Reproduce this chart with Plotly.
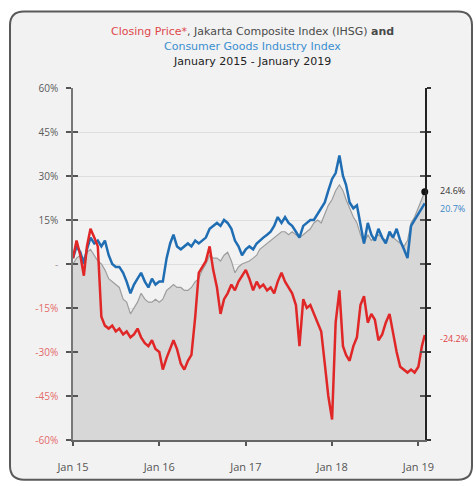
import datetime as dt
import plotly.graph_objects as go

# Half-monthly observation dates, Jan 2015 - Jan 2019, plus the last close
dates = []
for year in range(2015, 2019):
    for month in range(1, 13):
        dates.append(dt.date(year, month, 1))
        dates.append(dt.date(year, month, 16))
dates += [dt.date(2019, 1, 1), dt.date(2019, 1, 16), dt.date(2019, 1, 28)]

# Cumulative change since Jan 2015, in percent
closing_price = [
    2, 8, 3, -4, 6, 12, 9, 6, -18, -21,
    -22, -21, -23, -22, -24, -23, -25, -24, -22, -25,
    -27, -28, -26, -29, -30, -36, -32, -29, -26, -29,
    -34, -36, -33, -31, -18, -3, -1, 1, 6, -2,
    -8, -17, -12, -10, -7, -9, -6, -4, -2, -5,
    -9, -6, -8, -7, -9, -8, -10, -6, -3, -6,
    -8, -10, -14, -28, -12, -15, -14, -17, -20, -23,
    -34, -45, -53, -20, -9, -28, -31, -33, -28, -25,
    -14, -11, -20, -17, -19, -26, -24, -20, -17, -24,
    -30, -35, -36, -37, -36, -37, -35, -28, -24.2,
]
consumer_goods = [
    2, 6, 4, 0, 5, 9, 7, 8, 6, 8,
    3, 0, -1, -1, -3, -6, -10, -7, -5, -3,
    -6, -8, -5, -7, -6, -6, 2, 7, 10, 6,
    5, 6, 7, 6, 8, 7, 8, 9, 12, 13,
    14, 13, 15, 14, 12, 8, 6, 3, 5, 6,
    5, 7, 8, 9, 10, 11, 13, 16, 14, 16,
    14, 13, 11, 9, 13, 14, 15, 15, 17, 19,
    21, 25, 29, 31, 37, 30, 27, 21, 19, 20,
    13, 7, 14, 10, 8, 12, 9, 7, 11, 9,
    12, 8, 5, 2, 13, 15, 17, 19, 20.7,
]
jci = [
    0, 2, 3, 2, 4, 5, 3, 1, 0, -2,
    -5, -6, -7, -8, -12, -13, -17, -15, -13, -10,
    -12, -13, -13, -12, -13, -12, -9, -8, -7, -8,
    -8, -9, -9, -8, -6, -5, -2, 0, 3, 2,
    2, 1, 3, 4, 1, -3, -1, 0, 0.5, 1,
    2, 3, 5, 6, 7, 8, 9, 10, 11, 11,
    10, 11, 10, 9, 10, 11, 12, 14, 15, 14,
    17, 20, 22, 25, 27, 25, 22, 19, 16, 14,
    10, 7, 10, 8, 9, 10, 9, 8, 10, 9,
    8, 7, 6, 8, 14, 16, 19, 22, 24.6,
]

y_ticks = [60, 45, 30, 15, 0, -15, -30, -45, -60]
y_tick_labels = ["60%", "45%", "30%", "15%", "-", "-15%", "-30%", "-45%", "-60%"]
x_ticks = ["2015-01-01", "2016-01-01", "2017-01-01", "2018-01-01", "2019-01-01"]
x_tick_labels = ["Jan 15", "Jan 16", "Jan 17", "Jan 18", "Jan 19"]
end_labels = ["24.6%", "20.7%", "-24.2%"]

Y_MIN, Y_MAX = -60, 60
X_RANGE = ["2015-01-01", "2019-01-29"]

RED = "#e02626"
BLUE = "#1f6db3"
FONT = "Open Sans"
TITLE_FONT = "DejaVu Sans"

W, H = 476, 486
ML, MR, MT, MB = 73, 51, 88, 44
PW, PH = W - ML - MR, H - MT - MB


def px(x):
    return (x - ML) / PW


def py(y):
    return (H - MB - y) / PH


def tick_text(label, value):
    if value > 0:
        color = "#5a5a5a"
    elif value == 0:
        color = "#9a9a9a"
    else:
        color = "#e46a6a"
    return f"<span style='color:{color}'>{label}</span>"


fig = go.Figure()

# invisible baseline at the bottom of the axis so the index area fills down to it
fig.add_trace(go.Scatter(x=dates, y=[Y_MIN] * len(dates), mode="lines",
                         line=dict(width=0), hoverinfo="skip", showlegend=False))
fig.add_trace(go.Scatter(x=dates, y=jci, mode="lines", fill="tonexty",
                         fillcolor="#d7d7d7", line=dict(color="#9d9d9d", width=1.2),
                         name="JCI", showlegend=False))
fig.add_trace(go.Scatter(x=dates, y=consumer_goods, mode="lines",
                         line=dict(color=BLUE, width=2.5),
                         name="Consumer Goods", showlegend=False))
fig.add_trace(go.Scatter(x=dates, y=closing_price, mode="lines",
                         line=dict(color=RED, width=2.5),
                         name="Closing Price", showlegend=False))
fig.add_trace(go.Scatter(x=[dates[-1]], y=[jci[-1]], mode="markers",
                         marker=dict(color="#111111", size=7), cliponaxis=False,
                         showlegend=False, hoverinfo="skip"))
# empty traces that carry the right-hand axis and the inner tick marks
fig.add_trace(go.Scatter(x=[], y=[], yaxis="y2", showlegend=False))
fig.add_trace(go.Scatter(x=[], y=[], xaxis="x2", yaxis="y3", showlegend=False))

# rounded frame around the whole chart
bx0, bx1, by0, by1 = px(10), px(472), py(482), py(11)
rx, ry = 14 / PW, 14 / PH
frame = (f"M {bx0+rx},{by1} L {bx1-rx},{by1} Q {bx1},{by1} {bx1},{by1-ry} "
         f"L {bx1},{by0+ry} Q {bx1},{by0} {bx1-rx},{by0} L {bx0+rx},{by0} "
         f"Q {bx0},{by0} {bx0},{by0+ry} L {bx0},{by1-ry} Q {bx0},{by1} {bx0+rx},{by1} Z")
fig.add_shape(type="path", path=frame, xref="paper", yref="paper",
              fillcolor="#f2f2f2", line=dict(color="#5a5a5a", width=2), layer="below")

# title, three centred lines
title_lines = [
    ("<span style='color:#e0474c'>Closing Price*</span>, Jakarta Composite Index (IHSG) <b>and</b>",
     31, "#4a4a4a"),
    ("Consumer Goods Industry Index", 46, "#3a8fd0"),
    ("January 2015 - January 2019", 61, "#222222"),
]
for text, ypix, color in title_lines:
    fig.add_annotation(text=text, xref="paper", yref="paper", x=px(252), y=py(ypix),
                       xanchor="center", yanchor="middle", showarrow=False,
                       font=dict(family=TITLE_FONT, size=11, color=color))

# end-of-period values beside the right axis
for label, value, color, shift in [(end_labels[0], jci[-1], "#333333", 1),
                                   (end_labels[1], consumer_goods[-1], "#3a86c8", -5),
                                   (end_labels[2], closing_price[-1], "#e04545", -4)]:
    fig.add_annotation(text=label, xref="paper", yref="y", x=1, y=value, xshift=13,
                       yshift=shift, xanchor="left", yanchor="middle", showarrow=False,
                       font=dict(family=FONT, size=9, color=color))

fig.update_layout(
    width=W, height=H,
    margin=dict(l=ML, r=MR, t=MT, b=MB, pad=0),
    paper_bgcolor="#ffffff",
    plot_bgcolor="rgba(0,0,0,0)",
    font=dict(family=FONT, size=11, color="#555555"),
    xaxis=dict(range=X_RANGE, tickvals=x_ticks, ticktext=x_tick_labels,
               showgrid=False, zeroline=False, showline=True, linecolor="#666666",
               linewidth=1.5, ticks="outside", ticklen=4, tickcolor="#555555",
               tickwidth=1.5, ticklabelstandoff=12,
               tickfont=dict(family=FONT, size=11, color="#555555")),
    xaxis2=dict(range=X_RANGE, overlaying="x", anchor="y3", tickvals=x_ticks,
                showticklabels=False, showgrid=False, zeroline=False, showline=False,
                ticks="inside", ticklen=4, tickcolor="#555555", tickwidth=1.5),
    yaxis=dict(range=[Y_MIN, Y_MAX], tickvals=y_ticks,
               ticktext=[tick_text(l, v) for l, v in zip(y_tick_labels, y_ticks)],
               showgrid=True, gridcolor="#dedede", gridwidth=1, zeroline=False,
               showline=True, linecolor="#777777", linewidth=1.5,
               ticks="outside", ticklen=5, tickcolor="#555555", tickwidth=1.5,
               ticklabelstandoff=6, tickfont=dict(family=FONT, size=10)),
    yaxis2=dict(range=[Y_MIN, Y_MAX], overlaying="y", side="right", anchor="x",
                tickvals=y_ticks, showticklabels=False, showgrid=False, zeroline=False,
                showline=True, linecolor="#222222", linewidth=2,
                ticks="outside", ticklen=4, tickcolor="#333333", tickwidth=1.5),
    yaxis3=dict(range=[Y_MIN, Y_MAX], overlaying="y", side="left", anchor="x2",
                tickvals=y_ticks, showticklabels=False, showgrid=False, zeroline=False,
                showline=False, ticks="inside", ticklen=5, tickcolor="#555555",
                tickwidth=1.5, mirror="ticks"),
    showlegend=False,
)

fig.write_html("out.html")
